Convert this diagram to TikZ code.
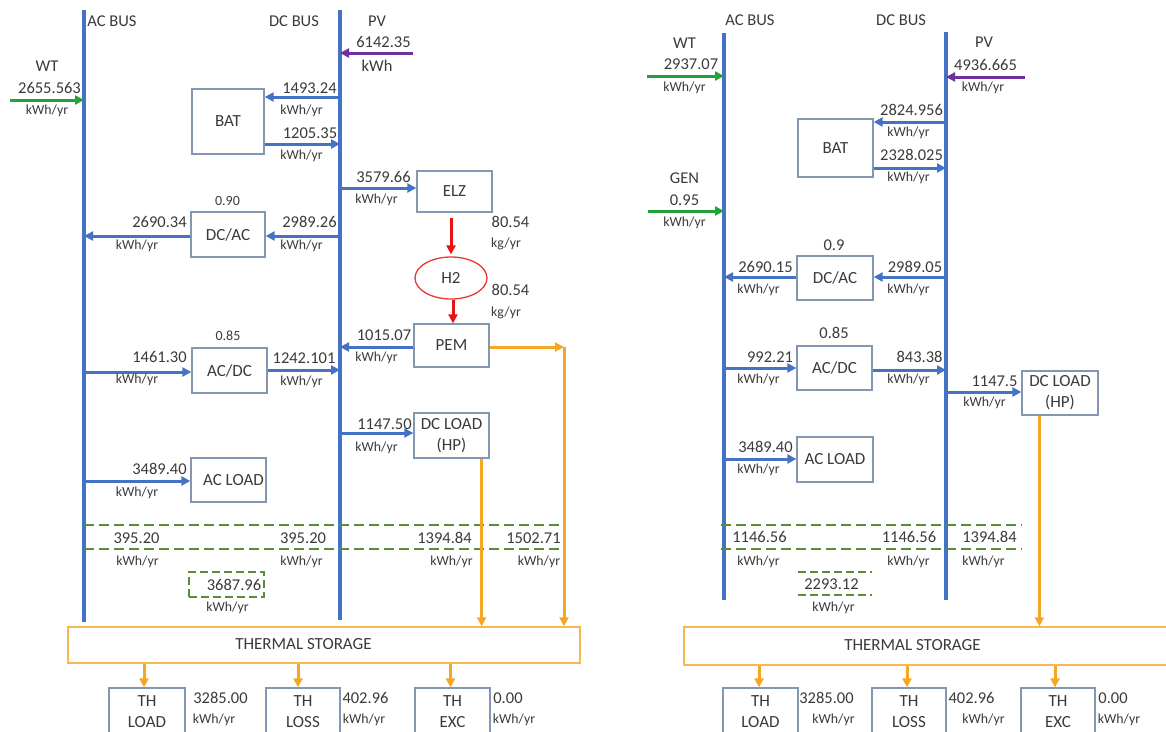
\documentclass[tikz,border=0pt]{standalone}
\usepackage{fontspec}
\setmainfont{Carlito}
\usetikzlibrary{arrows.meta,shapes.geometric}
\definecolor{busblue}{HTML}{4472C4}
\definecolor{boxedge}{HTML}{8497B0}
\definecolor{txt}{HTML}{3A3A3A}
\definecolor{wtgreen}{HTML}{22A33A}
\definecolor{pvpurple}{HTML}{7030A0}
\definecolor{h2red}{HTML}{E81212}
\definecolor{thorange}{HTML}{F5A623}
\definecolor{dashgreen}{HTML}{5B8C3A}
\begin{document}
\begin{tikzpicture}[x=1pt,y=-1pt,
  bus/.style={busblue,line width=3.5pt},
  flow/.style={busblue,line width=3pt,-{Triangle[length=9pt,width=9pt]}},
  gflow/.style={wtgreen,line width=3pt,-{Triangle[length=9pt,width=9pt]}},
  pflow/.style={pvpurple,line width=3pt,-{Triangle[length=9pt,width=9pt]}},
  rflow/.style={h2red,line width=3pt,-{Triangle[length=9pt,width=9pt]}},
  heat/.style={thorange,line width=3pt,-{Triangle[length=9pt,width=9pt]}},
  gdash/.style={dashgreen,line width=2.2pt,dash pattern=on 10pt off 5pt},
  num/.style={text=txt,font=\fontsize{16.5}{19}\selectfont,inner sep=0pt},
  unit/.style={text=txt,font=\fontsize{13.8}{16}\selectfont,inner sep=0pt},
  effs/.style={text=txt,font=\fontsize{14}{16}\selectfont,inner sep=0pt},
  blk/.style={draw=boxedge,line width=1.3pt,text=txt,font=\fontsize{17}{21}\selectfont,align=center,inner sep=0pt},
  tsbox/.style={draw=thorange!80,line width=1.4pt,inner sep=0pt},
]
\useasboundingbox (0,0) rectangle (1166,731);
\clip (0,0) rectangle (1166,731);

%================= LEFT =================
\coordinate (LacT) at (84,10);  \coordinate (LacB) at (84,622);
\coordinate (LdcT) at (340,10); \coordinate (LdcB) at (340,620);
\draw[bus] (LacT) -- (LacB);
\draw[bus] (LdcT) -- (LdcB);

\node[num] (LacL) at (112,21) {AC BUS};
\node[num] (LdcL) at (294,21) {DC BUS};
\node[num] (LpvL) at (377,21) {PV};

\node[blk,minimum width=72pt,minimum height=65pt] (Lbat) at (228,121.5) {BAT};
\node[blk,minimum width=74pt,minimum height=45pt] (Ldcac) at (228,234.5) {DC/AC};
\node[blk,minimum width=75pt,minimum height=41pt] (Lelz) at (454.5,191.5) {ELZ};
\node[ellipse,draw=h2red!85,line width=1.3pt,text=txt,font=\fontsize{17}{21}\selectfont,minimum width=72pt,minimum height=42pt,inner sep=0pt] (Lh2) at (451,278) {H2};
\node[blk,minimum width=75pt,minimum height=43pt] (Lpem) at (451.5,345.5) {PEM};
\node[blk,minimum width=75pt,minimum height=45pt] (Lacdc) at (229.5,370.5) {AC/DC};
\node[blk,minimum width=75pt,minimum height=45pt] (Ldcl) at (451.5,435.5) {DC LOAD\\(HP)};
\node[blk,minimum width=75pt,minimum height=44pt] (Lacl) at (228.5,480) {\hspace*{10pt}AC LOAD};

% sources
\coordinate (Lwt) at (10,100);
\draw[gflow] (Lwt) -- (Lwt -| LacT);
\node[num] (LwtN) at (47,66) {WT};
\node[num] (LwtV) at (49.5,88) {2655.563};
\node[unit] (LwtU) at (47,111) {kWh/yr};

\coordinate (Lpv) at (413,53);
\draw[pflow] (Lpv) -- (Lpv -| LdcT);
\node[num] (LpvV) at (383.5,42) {6142.35};
\node[num] (LpvU) at (377,66) {kWh};

% battery
\coordinate (Lb1) at (340,97);
\draw[flow] (Lb1) -- (Lbat.east |- Lb1);
\node[num] (Lb1V) at (309.5,88) {1493.24};
\node[unit] (Lb1U) at (301.5,111) {kWh/yr};
\coordinate (Lb2) at (340,144);
\draw[flow] (Lbat.east |- Lb2) -- (Lb2);
\node[num] (Lb2V) at (310,133) {1205.35};
\node[unit] (Lb2U) at (301.5,156) {kWh/yr};

% electrolyser
\coordinate (Le) at (340,188);
\draw[flow] (Le) -- (Lelz.west |- Le);
\node[num] (LeV) at (383.5,177) {3579.66};
\node[unit] (LeU) at (376.5,200) {kWh/yr};
\coordinate (Lr1) at ([yshift=-5pt]Lelz.south);
\draw[rflow] (Lr1 -| Lh2.north) -- ([yshift=2pt]Lh2.north);
\node[num] (Lh2aV) at (510.5,222) {80.54};
\node[unit] (Lh2aU) at (506,244) {kg/yr};
\draw[rflow] ([xshift=2pt]Lh2.south) -- ([xshift=1.5pt]Lpem.north);
\node[num] (Lh2bV) at (510.5,290) {80.54};
\node[unit] (Lh2bU) at (506,313) {kg/yr};

% DC/AC
\node[effs] (LdcacE) at (227.5,201) {0.90};
\coordinate (Ld1) at (340,236);
\draw[flow] (Ld1) -- (Ldcac.east |- Ld1);
\draw[flow] (Ldcac.west |- Ld1) -- (Ld1 -| LacT);
\node[num] (Ld1aV) at (159.5,222) {2690.34};
\node[unit] (Ld1aU) at (137,246) {kWh/yr};
\node[num] (Ld1bV) at (309.5,222) {2989.26};
\node[unit] (Ld1bU) at (301.5,246) {kWh/yr};

% PEM
\coordinate (Lp) at (340,347);
\draw[flow] (Lpem.west |- Lp) -- (Lp);
\node[num] (LpV) at (384,335) {1015.07};
\node[unit] (LpU) at (376.5,358) {kWh/yr};
\coordinate (Lcorner) at (564,347);
\draw[heat] (Lpem.east |- Lcorner) -- (Lcorner);

% AC/DC
\node[effs] (LacdcE) at (228,336) {0.85};
\coordinate (La1) at (84,372);
\draw[flow] (La1) -- (Lacdc.west |- La1);
\node[num] (La1V) at (159.5,357) {1461.30};
\node[unit] (La1U) at (137,380) {kWh/yr};
\coordinate (La2) at (340,370);
\draw[flow] (Lacdc.east |- La2) -- (La2);
\node[num] (La2V) at (304,358) {1242.101};
\node[unit] (La2U) at (301.5,382) {kWh/yr};

% DC load
\coordinate (Lh) at (340,433);
\draw[flow] (Lh) -- (Ldcl.west |- Lh);
\node[num] (LhV) at (384.5,424) {1147.50};
\node[unit] (LhU) at (376.5,448) {kWh/yr};

% AC load
\coordinate (Lal) at (84,481);
\draw[flow] (Lal) -- (Lacl.west |- Lal);
\node[num] (LalV) at (159.5,469) {3489.40};
\node[unit] (LalU) at (137,493) {kWh/yr};

% dashed balance lines
\coordinate (Lg1a) at (84,525); \coordinate (Lg1b) at (563,525);
\coordinate (Lg2a) at (84,549); \coordinate (Lg2b) at (563,549);
\draw[gdash] (Lg1a) -- (Lg1b);
\draw[gdash] (Lg2a) -- (Lg2b);
\node[num] (Lq1V) at (136.5,538) {395.20};
\node[unit] (Lq1U) at (137.5,562) {kWh/yr};
\node[num] (Lq2V) at (303,538) {395.20};
\node[unit] (Lq2U) at (301.5,562) {kWh/yr};
\node[num] (Lq3V) at (444.5,538) {1394.84};
\node[unit] (Lq3U) at (451.5,562) {kWh/yr};
\node[num] (Lq4V) at (533.5,538) {1502.71};
\node[unit] (Lq4U) at (539,562) {kWh/yr};
\node[draw=dashgreen,line width=1.8pt,dash pattern=on 8pt off 4pt,minimum width=75pt,minimum height=25pt,inner sep=0pt] (Lsum) at (226.5,584.5) {};
\node[num] (LsumV) at (234,585) {3687.96};
\node[unit] (LsumU) at (227.5,608) {kWh/yr};

% thermal storage
\node[tsbox,minimum width=512pt,minimum height=36pt] (Lts) at (324,645) {};
\node[num,font=\fontsize{17}{20}\selectfont] (LtsT) at (303.5,644) {THERMAL STORAGE};
\coordinate (Lhp) at ([xshift=-8pt]Ldcl.south east);
\draw[heat] (Lhp) -- (Lhp |- Lts.north);
\draw[heat] (Lcorner) -- (Lcorner |- Lts.north);

\node[blk,minimum width=76pt,minimum height=47pt] (Lthl) at (147,711.5) {TH\\LOAD};
\node[blk,minimum width=74pt,minimum height=47pt] (Lths) at (303,711.5) {TH\\LOSS};
\node[blk,minimum width=75pt,minimum height=47pt] (Lthe) at (452.5,711.5) {TH\\EXC};
\draw[heat] ([xshift=-3pt]Lts.south -| Lthl.north) -- ([xshift=-3pt]Lthl.north);
\draw[heat] ([xshift=-5pt]Lts.south -| Lths.north) -- ([xshift=-5pt]Lths.north);
\draw[heat] ([xshift=-2pt]Lts.south -| Lthe.north) -- ([xshift=-2pt]Lthe.north);
\node[num] (Lt1V) at (220.5,698) {3285.00};
\node[unit] (Lt1U) at (214,720) {kWh/yr};
\node[num] (Lt2V) at (365.5,698) {402.96};
\node[unit] (Lt2U) at (364,720) {kWh/yr};
\node[num] (Lt3V) at (508,698) {0.00};
\node[unit] (Lt3U) at (514,720) {kWh/yr};

%================= RIGHT =================
\coordinate (RacT) at (724,33);  \coordinate (RacB) at (724,600);
\coordinate (RdcT) at (946,32);  \coordinate (RdcB) at (946,600);
\draw[bus] (RacT) -- (RacB);
\draw[bus] (RdcT) -- (RdcB);
\node[num] (RacL) at (750,20) {AC BUS};
\node[num] (RdcL) at (901,20) {DC BUS};
\node[num] (RpvL) at (984,42) {PV};

\node[blk,minimum width=75pt,minimum height=58pt] (Rbat) at (835.5,148) {BAT};
\node[blk,minimum width=76pt,minimum height=44pt] (Rdcac) at (835,278) {DC/AC};
\node[blk,minimum width=75pt,minimum height=44pt] (Racdc) at (834.5,368) {AC/DC};
\node[blk,minimum width=76pt,minimum height=45pt] (Racl) at (835,459.5) {AC LOAD};
\node[blk,minimum width=76pt,minimum height=44pt] (Rdcl) at (1060,393) {DC LOAD\\(HP)};

% sources
\coordinate (Rwt) at (647,76);
\draw[gflow] (Rwt) -- (Rwt -| RacT);
\node[num] (RwtN) at (684.5,43) {WT};
\node[num] (RwtV) at (691,64) {2937.07};
\node[unit] (RwtU) at (684.5,88) {kWh/yr};
\coordinate (Rgen) at (648,211);
\draw[gflow] (Rgen) -- (Rgen -| RacT);
\node[num] (RgenN) at (684.5,178) {GEN};
\node[num] (RgenV) at (684.5,200) {0.95};
\node[unit] (RgenU) at (684.5,223) {kWh/yr};
\coordinate (Rpv) at (1025,77);
\draw[pflow] (Rpv) -- (Rpv -| RdcT);
\node[num] (RpvV) at (985.5,65) {4936.665};
\node[unit] (RpvU) at (983,88) {kWh/yr};

% battery
\coordinate (Rb1) at (946,122);
\draw[flow] (Rb1) -- (Rbat.east |- Rb1);
\node[num] (Rb1V) at (911.5,110) {2824.956};
\node[unit] (Rb1U) at (908.5,133) {kWh/yr};
\coordinate (Rb2) at (946,168);
\draw[flow] (Rbat.east |- Rb2) -- (Rb2);
\node[num] (Rb2V) at (911.5,155) {2328.025};
\node[unit] (Rb2U) at (908.5,178) {kWh/yr};

% DC/AC
\node[num] (RdcacE) at (834,245) {0.9};
\coordinate (Rd1) at (946,277);
\draw[flow] (Rd1) -- (Rdcac.east |- Rd1);
\draw[flow] (Rdcac.west |- Rd1) -- (Rd1 -| RacT);
\node[num] (Rd1aV) at (765.5,267) {2690.15};
\node[unit] (Rd1aU) at (758.5,290) {kWh/yr};
\node[num] (Rd1bV) at (915,267) {2989.05};
\node[unit] (Rd1bU) at (908.5,290) {kWh/yr};

% AC/DC
\node[num] (RacdcE) at (834,333) {0.85};
\coordinate (Ra1) at (724,368);
\draw[flow] (Ra1) -- (Racdc.west |- Ra1);
\node[num] (Ra1V) at (770,357) {992.21};
\node[unit] (Ra1U) at (758.5,380) {kWh/yr};
\coordinate (Ra2) at (946,370);
\draw[flow] (Racdc.east |- Ra2) -- (Ra2);
\node[num] (Ra2V) at (919.5,357) {843.38};
\node[unit] (Ra2U) at (908.5,380) {kWh/yr};

% DC load
\coordinate (Rh) at (946,392);
\draw[flow] (Rh) -- (Rdcl.west |- Rh);
\node[num] (RhV) at (994.5,381) {1147.5};
\node[unit] (RhU) at (984.5,403) {kWh/yr};

% AC load
\coordinate (Ral) at (724,459);
\draw[flow] (Ral) -- (Racl.west |- Ral);
\node[num] (RalV) at (765.5,447) {3489.40};
\node[unit] (RalU) at (758.5,470) {kWh/yr};

% dashed balance lines
\coordinate (Rg1a) at (721,525); \coordinate (Rg1b) at (1022,525);
\coordinate (Rg2a) at (721,549); \coordinate (Rg2b) at (1022,549);
\draw[gdash] (Rg1a) -- (Rg1b);
\draw[gdash] (Rg2a) -- (Rg2b);
\node[num] (Rq1V) at (759.5,537) {1146.56};
\node[unit] (Rq1U) at (758.5,562) {kWh/yr};
\node[num] (Rq2V) at (909,537) {1146.56};
\node[unit] (Rq2U) at (908.5,562) {kWh/yr};
\node[num] (Rq3V) at (989.5,537) {1394.84};
\node[unit] (Rq3U) at (983.5,562) {kWh/yr};
\coordinate (Rs1a) at (798,572); \coordinate (Rs1b) at (872,572);
\coordinate (Rs2a) at (798,595); \coordinate (Rs2b) at (872,595);
\draw[gdash,dash pattern=on 8pt off 4pt] (Rs1a) -- (Rs1b);
\draw[gdash,dash pattern=on 8pt off 4pt] (Rs2a) -- (Rs2b);
\node[num] (RsumV) at (831.5,584) {2293.12};
\node[unit] (RsumU) at (833.5,608) {kWh/yr};

% thermal storage
\node[tsbox,minimum width=492pt,minimum height=38pt] (Rts) at (930,646) {};
\node[num,font=\fontsize{17}{20}\selectfont] (RtsT) at (912.5,645) {THERMAL STORAGE};
\coordinate (Rhp) at ([xshift=18pt]Rdcl.south west);
\draw[heat] (Rhp) -- (Rhp |- Rts.north);

\node[blk,minimum width=75pt,minimum height=47pt] (Rthl) at (760.5,711.5) {TH\\LOAD};
\node[blk,minimum width=74pt,minimum height=47pt] (Rths) at (909,711.5) {TH\\LOSS};
\node[blk,minimum width=74pt,minimum height=47pt] (Rthe) at (1058,711.5) {TH\\EXC};
\draw[heat] ([xshift=-1.5pt]Rts.south -| Rthl.north) -- ([xshift=-1.5pt]Rthl.north);
\draw[heat] ([xshift=-2pt]Rts.south -| Rths.north) -- ([xshift=-2pt]Rths.north);
\draw[heat] ([xshift=-3pt]Rts.south -| Rthe.north) -- ([xshift=-3pt]Rthe.north);
\node[num] (Rt1V) at (826.5,698) {3285.00};
\node[unit] (Rt1U) at (833.5,720) {kWh/yr};
\node[num] (Rt2V) at (971.5,698) {402.96};
\node[unit] (Rt2U) at (983.5,720) {kWh/yr};
\node[num] (Rt3V) at (1113,698) {0.00};
\node[unit] (Rt3U) at (1119,720) {kWh/yr};
\end{tikzpicture}
\end{document}
